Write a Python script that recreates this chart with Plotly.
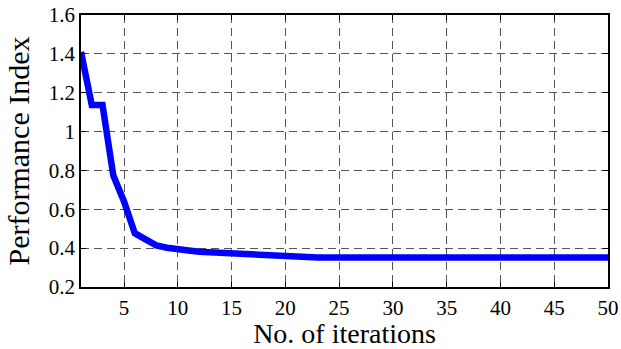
import plotly.graph_objects as go

# Performance index per optimisation iteration
iterations = list(range(1, 51))
performance = [
    1.41, 1.137, 1.137, 0.775, 0.64, 0.477, 0.445, 0.414, 0.402, 0.398,
    0.388, 0.381, 0.378, 0.375, 0.373, 0.368, 0.364, 0.360, 0.357, 0.355,
    0.354, 0.353, 0.352, 0.352, 0.352, 0.352, 0.352, 0.352, 0.352, 0.352,
    0.352, 0.352, 0.352, 0.352, 0.352, 0.352, 0.352, 0.352, 0.352, 0.352,
    0.352, 0.352, 0.352, 0.352, 0.352, 0.352, 0.352, 0.352, 0.352, 0.352,
]
x_ticks = [5, 10, 15, 20, 25, 30, 35, 40, 45, 50]
y_ticks = [0.2, 0.4, 0.6, 0.8, 1.0, 1.2, 1.4, 1.6]
y_tick_text = ["0.2", "0.4", "0.6", "0.8", "1", "1.2", "1.4", "1.6"]

FONT = "Liberation Serif"

fig = go.Figure()
fig.add_trace(go.Scatter(
    x=iterations, y=performance, mode="lines",
    line=dict(color="#0000ff", width=6.5),
    showlegend=False,
))

axis_common = dict(
    automargin=False,
    showline=True, linecolor="black", linewidth=1.5, mirror="ticks",
    ticks="inside", ticklen=5, tickcolor="black", tickwidth=1,
    showgrid=True, gridcolor="#555555", griddash="8px,5px", gridwidth=1,
    zeroline=False,
    tickfont=dict(family=FONT, size=21, color="black"),
)

fig.update_xaxes(
    range=[1, 50], tickvals=x_ticks, ticklabelstandoff=1,
    title=dict(text="No. of iterations", font=dict(family=FONT, size=28, color="black"), standoff=3),
    **axis_common,
)
fig.update_yaxes(
    range=[0.2, 1.6], tickvals=y_ticks, ticktext=y_tick_text,
    title=dict(text="Performance Index", font=dict(family=FONT, size=30, color="black"), standoff=10),
    **axis_common,
)

fig.update_layout(
    template="none",
    width=621, height=349,
    margin=dict(l=81, r=13, t=15, b=62),
    paper_bgcolor="white", plot_bgcolor="white",
)

fig.write_html("out.html")
